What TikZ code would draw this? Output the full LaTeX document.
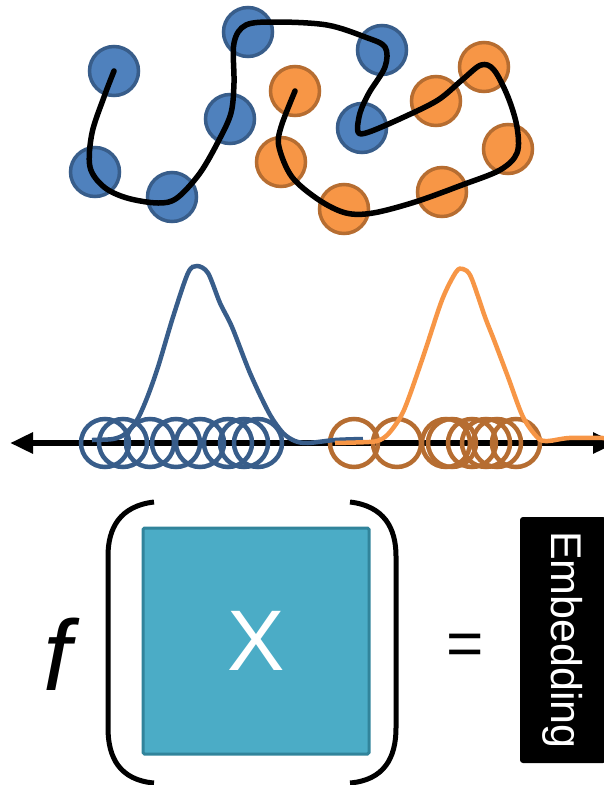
\documentclass[tikz,border=0pt]{standalone}
\usepackage{fontspec}
\setmainfont{Liberation Sans}
\usetikzlibrary{arrows.meta,positioning}
\definecolor{dotblue}{HTML}{4F81BD}
\definecolor{rimblue}{HTML}{385D8A}
\definecolor{dotorange}{HTML}{F79646}
\definecolor{rimorange}{HTML}{B66D31}
\definecolor{boxteal}{HTML}{4BACC6}
\definecolor{rimteal}{HTML}{31849B}
\tikzset{
  bluedot/.style={circle, draw=rimblue, fill=dotblue, line width=3.5pt, minimum size=49pt, inner sep=0pt},
  orangedot/.style={circle, draw=rimorange, fill=dotorange, line width=3.5pt, minimum size=49pt, inner sep=0pt},
  bluering/.style={circle, draw=rimblue, line width=4.5pt, minimum size=48pt, inner sep=0pt},
  orangering/.style={circle, draw=rimorange, line width=4.5pt, minimum size=48pt, inner sep=0pt},
  chain/.style={line width=5.5pt, line cap=round, line join=round},
  bracket/.style={line width=5pt},
}
\begin{document}
\begin{tikzpicture}[x=1pt, y=-1pt]
\useasboundingbox (0,0) rectangle (603,785);

% sequence
\node[bluedot] (b1) at (114,71) {};
\node[bluedot] (b2) at (248,32) {};
\node[bluedot] (b3) at (382,50) {};
\node[bluedot] (b4) at (230,119) {};
\node[bluedot] (b5) at (95,172) {};
\node[bluedot] (b6) at (172,197) {};
\node[bluedot] (b7) at (362,128) {};
\node[orangedot] (o1) at (295,91) {};
\node[orangedot] (o2) at (281,162) {};
\node[orangedot] (o3) at (344,209) {};
\node[orangedot] (o4) at (442,192) {};
\node[orangedot] (o5) at (508,149) {};
\node[orangedot] (o6) at (484,67) {};
\node[orangedot] (o7) at (436,101) {};
\draw[chain] plot[smooth, tension=0.55] coordinates {(b1.center) (104,97) (92,133) (90,167) (104,187) (127,198) (158,203) (177,198) (200,173) (219,140) (231,113) (234,83) (234,43) (246,25) (277,22) (327,25) (365,37) (385,47) (385,67) (369,93) (360,113) (358,132) (369,132) (404,117) (438,100) (462,80) (481,65) (494,70) (508,97) (517,127) (517,153) (500,170) (462,185) (415,202) (373,213) (346,213) (319,200) (292,177) (279,147) (281,127) (o1.center)};

% 1d embedding
\coordinate (axl) at (10,443);
\coordinate (axr) at (616,443);
\draw[line width=6.5pt, {Triangle[length=23pt,width=20pt]}-{Triangle[length=23pt,width=20pt]}] (axl) -- (axr);
\foreach \x [count=\i] in {105,123,150,176,200,228,244,258}
  \node[bluering] (br\i) at (\x,443) {};
\foreach \x [count=\i] in {354,397,446,452,472,486,497,516}
  \node[orangering] (or\i) at (\x,443) {};
\draw[rimblue, line width=4.5pt] plot[smooth, tension=0.5] coordinates {(92,440) (113,439) (125,434) (137,420) (147,398) (158,367) (173,317) (188,273) (197,266) (208,273) (220,303) (232,327) (250,373) (269,413) (283,433) (295,441) (308,443) (335,440) (363,439)};
\draw[dotorange, line width=4.5pt] plot[smooth, tension=0.5] coordinates {(335,443) (369,442) (380,440) (390,432) (404,410) (423,357) (442,300) (456,272) (463,269) (471,277) (485,317) (494,340) (508,377) (523,417) (538,438) (548,441) (569,438) (603,438) (612,439)};

% f(X) = embedding
\node[font=\fontsize{100}{100}\selectfont\itshape, anchor=base, inner sep=0pt] (fn) at (57,690) {f};
\draw[bracket] (154,502) .. controls (120,506) and (108,528) .. (108,556) -- (108,728) .. controls (108,758) and (120,780) .. (154,783);
\draw[bracket] (350,502) .. controls (384,506) and (396,528) .. (396,556) -- (396,728) .. controls (396,758) and (384,780) .. (350,783);
\node[draw=rimteal, fill=boxteal, line width=3pt, rounded corners=1.5pt, minimum size=226pt, text=white, font=\fontsize{86}{86}\selectfont] (mat) at (256,641) {X};
\node[font=\fontsize{64}{64}\selectfont] (eq) at (465,650) {=};
\node[fill=black, rounded corners=3pt, rotate=-90, minimum width=246pt, minimum height=86pt, inner sep=0pt, text=white, font=\fontsize{43}{43}\selectfont] (emb) at (563,640) {Embedding};
\end{tikzpicture}
\end{document}
